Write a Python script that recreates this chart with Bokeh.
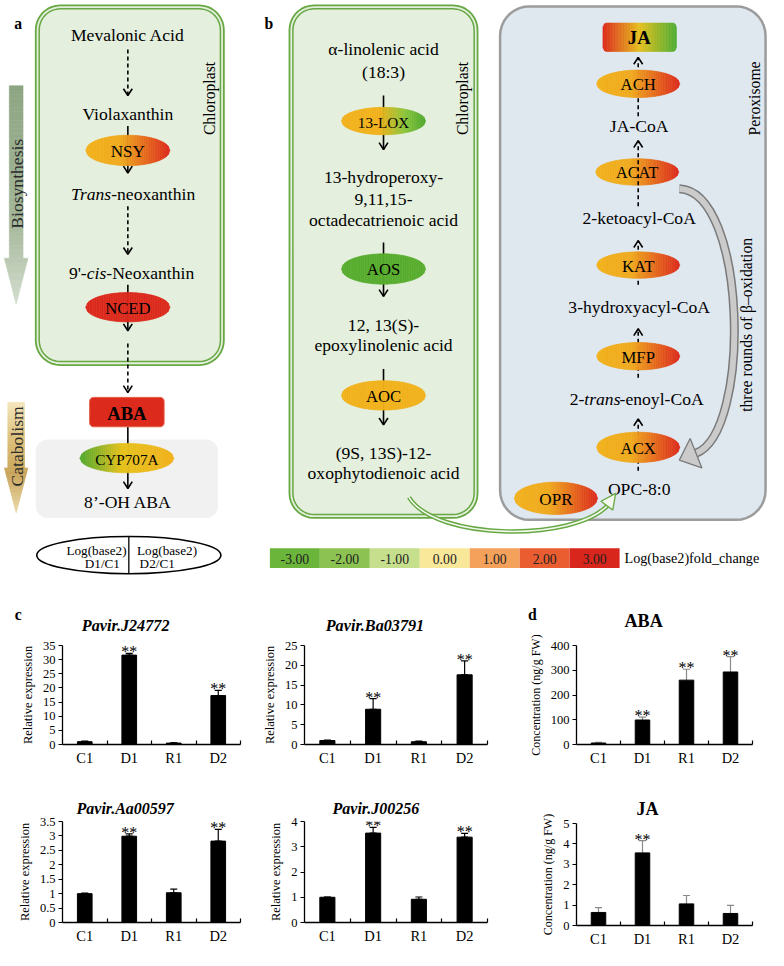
import numpy as np
from bokeh.plotting import figure
from bokeh.models import Range1d, LabelSet, Whisker, TeeHead, ColumnDataSource, FixedTicker
from bokeh.layouts import column, row
from bokeh.embed import file_html
from bokeh.resources import INLINE
from bokeh.core.properties import value

S = 0.98
SERIF = "Liberation Serif"

# ---------------- data ----------------
categories = ["C1", "D1", "R1", "D2"]

j24772_mean = [1.0, 31.6, 0.5, 17.3]
j24772_err = [0.2, 0.6, 0.1, 1.8]
j24772_sig = ["", "**", "", "**"]
j24772_ticks = [0, 5, 10, 15, 20, 25, 30, 35]

ba03791_mean = [1.0, 8.9, 0.7, 17.6]
ba03791_err = [0.1, 2.7, 0.15, 3.5]
ba03791_sig = ["", "**", "", "**"]
ba03791_ticks = [0, 5, 10, 15, 20, 25]

aa00597_mean = [1.0, 2.99, 1.03, 2.82]
aa00597_err = [0.02, 0.08, 0.13, 0.41]
aa00597_sig = ["", "**", "", "**"]
aa00597_ticks = [0, 0.5, 1, 1.5, 2, 2.5, 3, 3.5]

j00256_mean = [1.0, 3.54, 0.92, 3.38]
j00256_err = [0.01, 0.23, 0.09, 0.15]
j00256_sig = ["", "**", "", "**"]
j00256_ticks = [0, 1, 2, 3, 4]

aba_mean = [6, 99, 260, 293]
aba_err = [3, 12, 44, 62]
aba_sig = ["", "**", "**", "**"]
aba_ticks = [0, 100, 200, 300, 400]

ja_mean = [0.64, 3.56, 1.06, 0.59]
ja_err = [0.24, 0.6, 0.41, 0.4]
ja_sig = ["", "**", "", ""]
ja_ticks = [0, 1, 2, 3, 4, 5]

fold_labels = ["-3.00", "-2.00", "-1.00", "0.00", "1.00", "2.00", "3.00"]
fold_colors = ["#6ab53a", "#8cc251", "#c5df8d", "#f9e79a", "#f4a15c", "#ea5d31", "#d9261c"]

# ---------------- colours ----------------
ORANGE = "#f2b21c"
RED = "#dc2a1c"
GREEN = "#58ad2e"
BOX_GREEN = "#67a843"
BOX_FILL = "#e4efdd"
PER_FILL = "#dfe7ef"
OR_RED = [(0, ORANGE), (0.42, "#f0aa1e"), (1, RED)]


def fs(n):
    return f"{n * S:.1f}px"


# ---------------- diagram figure (also holds panel letters c/d and first-row titles) ----------------
TOP_H = 648
p = figure(width=768, height=round(TOP_H * S), x_range=Range1d(0, 784), y_range=Range1d(TOP_H, 0),
           x_axis_type=None, y_axis_type=None, toolbar_location=None,
           output_backend="svg", min_border=0, outline_line_color=None)
p.grid.visible = False


def txt(x, y, s, size=18, style="normal", align="center", angle=0.0, color="black", baseline="middle"):
    p.text(x=[x], y=[y], text=[s], text_font=value(SERIF), text_font_size=fs(size),
           text_font_style=style, text_align=align, text_baseline=baseline, angle=angle,
           text_color=color)


def hex2rgb(h):
    return tuple(int(h[i:i + 2], 16) for i in (1, 3, 5))


def lerp(stops, t):
    t = min(max(t, 0), 1)
    for (t0, c0), (t1, c1) in zip(stops[:-1], stops[1:]):
        if t <= t1:
            f = 0 if t1 == t0 else (t - t0) / (t1 - t0)
            a, b = hex2rgb(c0), hex2rgb(c1)
            return "#%02x%02x%02x" % tuple(round(a[k] + (b[k] - a[k]) * f) for k in range(3))
    return stops[-1][1]


def rrect(x0, y0, x1, y1, r, n=10):
    xs, ys = [], []
    for cx, cy, a0, a1 in [(x1 - r, y0 + r, -90, 0), (x1 - r, y1 - r, 0, 90),
                           (x0 + r, y1 - r, 90, 180), (x0 + r, y0 + r, 180, 270)]:
        for a in np.linspace(a0, a1, n):
            t = np.radians(a)
            xs.append(cx + r * np.cos(t))
            ys.append(cy + r * np.sin(t))
    return xs, ys


def grad_h(x0, x1, ext, stops, n=48):
    xs, ys, cols = [], [], []
    for i in range(n):
        xa = x0 + (x1 - x0) * i / n
        xb = x0 + (x1 - x0) * (i + 1) / n
        ta, ba = ext(xa)
        tb, bb = ext(xb)
        xs.append([xa, xb, xb, xa])
        ys.append([ta, tb, bb, ba])
        cols.append(lerp(stops, (i + 0.5) / n))
    p.patches(xs, ys, fill_color=cols, line_color=cols, line_width=0.6)


def grad_v(y0, y1, ext, stops, t0=0.0, t1=1.0, n=40):
    xs, ys, cols = [], [], []
    for i in range(n):
        ya = y0 + (y1 - y0) * i / n
        yb = y0 + (y1 - y0) * (i + 1) / n
        la, ra = ext(ya)
        lb, rb = ext(yb)
        xs.append([la, ra, rb, lb])
        ys.append([ya, ya, yb, yb])
        cols.append(lerp(stops, t0 + (t1 - t0) * (i + 0.5) / n))
    p.patches(xs, ys, fill_color=cols, line_color=cols, line_width=0.6)


def ell_ext(cx, cy, w, h):
    a, b = w / 2, h / 2

    def f(x):
        d = b * np.sqrt(max(0.0, 1 - ((x - cx) / a) ** 2))
        return cy - d, cy + d
    return f


def rr_ext(x0, y0, x1, y1, r):
    def f(x):
        dx = 0
        if x < x0 + r:
            dx = x0 + r - x
        elif x > x1 - r:
            dx = x - (x1 - r)
        dy = r - np.sqrt(max(0.0, r * r - dx * dx))
        return y0 + dy, y1 - dy
    return f


def enzyme(cx, cy, w, h, stops, label, size=17):
    grad_h(cx - w / 2, cx + w / 2, ell_ext(cx, cy, w, h), stops)
    txt(cx, cy + 1, label, size)


def big_arrow(cx, y_top, y_head, y_tip, shw, hhw, stops):
    frac = (y_head - y_top) / (y_tip - y_top)
    grad_v(y_top, y_head, lambda y: (cx - shw, cx + shw), stops, 0, frac, n=40)
    grad_v(y_head, y_tip, lambda y: (cx - hhw * (y_tip - y) / (y_tip - y_head),
                                     cx + hhw * (y_tip - y) / (y_tip - y_head)), stops, frac, 1, n=25)


def dbl_box(x0, y0, x1, y1, r):
    xs, ys = rrect(x0, y0, x1, y1, r)
    p.patch(xs, ys, fill_color=BOX_FILL, line_color=BOX_GREEN, line_width=1.8)
    xs, ys = rrect(x0 + 3.5, y0 + 3.5, x1 - 3.5, y1 - 3.5, r - 3.5)
    p.patch(xs, ys, fill_color=None, line_color=BOX_GREEN, line_width=1.5)


# left big arrows
big_arrow(16, 87, 263, 310, 7, 12, [(0, "#8ea583"), (0.6, "#a3b698"), (1, "#d3dccd")])
big_arrow(16, 410, 477, 523, 8.5, 12, [(0, "#f4e6bc"), (0.35, "#dcbf78"), (0.65, "#c9a55a"), (1, "#ead9a8")])
txt(17, 187, "Biosynthesis", 18, angle=np.pi / 2, color="#2a2a2a")
txt(17, 455, "Catabolism", 18, angle=np.pi / 2, color="#2a2a2a")

# compartments
dbl_box(36, 5, 228, 372, 25)
dbl_box(295, 5, 487, 528, 25)
xs, ys = rrect(510, 6, 781, 530, 30)
p.patch(xs, ys, fill_color=PER_FILL, line_color="#9c9c9c", line_width=2.5)
xs, ys = rrect(36, 448, 222, 528, 12)
p.patch(xs, ys, fill_color="#f1f1f1", line_color=None)

txt(18, 23, "a", 16, "bold")
txt(274, 23, "b", 16, "bold")
txt(213, 100, "Chloroplast", 16, angle=np.pi / 2)
txt(472, 100, "Chloroplast", 16, angle=np.pi / 2)
txt(770, 100, "Peroxisome", 16, angle=np.pi / 2)
txt(762, 331, "three rounds of \u03b2\u2013oxidation", 16, angle=np.pi / 2)

# panel a texts
txt(130, 35, "Mevalonic Acid")
txt(130, 116, "Violaxanthin")
txt(113, 197, "Trans", style="italic", align="right")
txt(113, 197, "-neoxanthin", align="left")
txt(88, 278, "9'-", align="right")
txt(88, 278, "cis", style="italic", align="left")
txt(108, 278, "-Neoxanthin", align="left")
txt(130, 512, "8\u2019-OH ABA")

# panel b texts
txt(391, 50, "\u03b1-linolenic acid")
txt(391, 73, "(18:3)")
txt(391, 180, "13-hydroperoxy-")
txt(391, 203, "9,11,15-")
txt(391, 224, "octadecatrienoic acid")
txt(391, 331, "12, 13(S)-")
txt(391, 352, "epoxylinolenic acid")
txt(391, 462, "(9S, 13S)-12-")
txt(391, 482, "oxophytodienoic acid")

# peroxisome texts
txt(652, 128, "JA-CoA")
txt(652, 222, "2-ketoacyl-CoA")
txt(652, 313, "3-hydroxyacyl-CoA")
txt(596, 407, "2-", align="right")
txt(596, 407, "trans", style="italic", align="left")
txt(632, 407, "-enoyl-CoA", align="left")
txt(652, 498, "OPC-8:0")

# shafts
solid = [(130, 128, 130, 176), (130, 290, 130, 337), (130, 435, 130, 498),
         (391, 97, 391, 152), (391, 247, 391, 302), (391, 376, 391, 433)]
dashed = [(130, 50, 130, 97), (130, 210, 130, 259), (130, 350, 130, 400),
          (651, 480, 651, 427), (651, 385, 651, 335), (651, 290, 651, 245), (651, 118, 651, 58)]
p.segment(x0=[s[0] for s in solid], y0=[s[1] for s in solid], x1=[s[2] for s in solid],
          y1=[s[3] for s in solid], line_color="black", line_width=1.6)
p.segment(x0=[s[0] for s in dashed], y0=[s[1] for s in dashed], x1=[s[2] for s in dashed],
          y1=[s[3] for s in dashed], line_color="black", line_width=1.6, line_dash="4 3")

# ABA box
xs, ys = rrect(91, 405, 167, 435, 4)
p.patch(xs, ys, fill_color=RED, line_color="#e45a40", line_width=1)
txt(129, 421, "ABA", 19, "bold")

# JA box
grad_h(615, 690, rr_ext(615, 23, 690, 52, 4), [(0, RED), (0.5, "#e6c01e"), (1, "#4fae32")])
txt(652, 38, "JA", 19, "bold")

# enzymes
enzyme(130, 153, 86, 31, OR_RED, "NSY", 17.5)
enzyme(130, 313, 86, 30, [(0, RED), (1, RED)], "NCED", 17)
enzyme(129, 467, 96, 30, [(0, "#4ea82e"), (0.45, "#e6c21c"), (1, ORANGE)], "CYP707A", 15.5)
enzyme(391, 123, 86, 28, [(0, ORANGE), (0.45, ORANGE), (0.75, "#8cc63c"), (1, "#4ea82e")], "13-LOX", 15.5)
enzyme(391, 274, 86, 31, [(0, GREEN), (1, GREEN)], "AOS", 17)
enzyme(391, 403, 86, 30, [(0, ORANGE), (1, ORANGE)], "AOC", 17)
enzyme(651, 85, 85, 28, OR_RED, "ACH", 17)
enzyme(650, 175, 85, 27, OR_RED, "ACAT", 16.5)
enzyme(651, 270, 85, 27, OR_RED, "KAT", 17)
enzyme(651, 363, 85, 28, OR_RED, "MFP", 17)
enzyme(651, 456, 85, 31, OR_RED, "ACX", 17)
enzyme(567, 508, 85, 33, OR_RED, "OPR", 17.5)

p.segment(x0=[651], y0=[210], x1=[651], y1=[143], line_color="black", line_width=1.6, line_dash="4 3")

# arrow heads
hx, hy = [], []
for x, y, d in [(130, 97, 1), (130, 176, 1), (130, 259, 1), (130, 337, 1), (130, 400, 1), (130, 498, 1),
                (391, 152, 1), (391, 302, 1), (391, 433, 1),
                (651, 427, -1), (651, 335, -1), (651, 245, -1), (651, 143, -1), (651, 58, -1)]:
    hx.append([x - 4.5, x, x + 4.5])
    hy.append([y - 7 * d, y, y - 7 * d])
p.multi_line(hx, hy, line_color="black", line_width=1.6)

# grey curved arrow (beta oxidation)
p.bezier(x0=[693], y0=[192], x1=[710], y1=[462], cx0=[762], cy0=[195], cx1=[767], cy1=[440],
         line_color="#7a7a7a", line_width=9)
p.bezier(x0=[693], y0=[192], x1=[710], y1=[462], cx0=[762], cy0=[195], cx1=[767], cy1=[440],
         line_color="#cbcbcb", line_width=6)
p.patch([693, 716, 704], [469, 477, 447], fill_color="#cbcbcb", line_color="#7a7a7a", line_width=1.3)

# green double curved arrow
p.bezier(x0=[417], y0=[507], x1=[620], y1=[515], cx0=[445], cy0=[552], cx1=[586], cy1=[552],
         line_color=BOX_GREEN, line_width=4.5)
p.bezier(x0=[417], y0=[507], x1=[620], y1=[515], cx0=[445], cy0=[552], cx1=[586], cy1=[552],
         line_color="#f3f8ef", line_width=1.6)
p.patch([628, 625, 613], [503, 520, 511], fill_color="#f3f8ef", line_color=BOX_GREEN, line_width=1.3)

# legend oval
p.ellipse(x=[131], y=[566], width=188, height=38, fill_color=None, line_color="black", line_width=1.6)
p.segment(x0=[131], y0=[547], x1=[131], y1=[585], line_color="black", line_width=1.3)
txt(98, 561, "Log(base2)", 13.5)
txt(104, 575, "D1/C1", 13.5)
txt(170, 561, "Log(base2)", 13.5)
txt(142, 575, "D2/C1", 13.5, align="left")

# fold-change colour scale
sx = [275 + 51 * (i + 0.5) for i in range(len(fold_labels))]
p.rect(x=sx, y=[569] * len(sx), width=51, height=20, fill_color=fold_colors, line_color=None)
p.text(x=sx, y=[570] * len(sx), text=fold_labels, text_font=value(SERIF), text_font_size=fs(14),
       text_align="center", text_baseline="middle", text_color="#222222")
txt(637, 569, "Log(base2)fold_change", 14.5, align="left")

# panel letters and first-row chart titles
txt(18, 627, "c", 16, "bold")
txt(543, 627, "d", 16, "bold")
txt(83, 638, "Pavir.J24772", 16.5, "bold italic", align="left")
txt(332, 638, "Pavir.Ba03791", 16.5, "bold italic", align="left")
txt(637, 633, "ABA", 18.5, "bold", align="left")


# ---------------- bar charts ----------------
def bar_chart(means, errs, sig, ticks, title, tsize, tstyle, toff, ylabel, ylsize,
              width, height, left, right, top, bottom, ecol, two_sided, overrides=False):
    f = figure(width=width, height=height, x_range=Range1d(0, 4), y_range=Range1d(0, ticks[-1]),
               toolbar_location=None, output_backend="svg",
               min_border_left=left, min_border_right=right, min_border_top=top, min_border_bottom=bottom)
    f.outline_line_color = None
    f.grid.visible = False
    xpos = [i + 0.5 for i in range(len(categories))]
    upper = [m + e for m, e in zip(means, errs)]
    lower = [(m - e) if two_sided else m for m, e in zip(means, errs)]
    src = ColumnDataSource(dict(x=xpos, top=means, upper=upper, lower=lower, sig=sig))
    f.vbar(x="x", top="top", width=0.33, source=src, fill_color="black", line_color="black")
    f.add_layout(Whisker(source=src, base="x", upper="upper", lower="lower", line_color=ecol, line_width=1.2,
                         upper_head=TeeHead(size=7, line_color=ecol, line_width=1.2),
                         lower_head=TeeHead(size=7, line_color=ecol, line_width=1.2)))
    f.add_layout(LabelSet(x="x", y="upper", text="sig", source=src, text_font=value(SERIF),
                          text_font_size="16px", text_align="center", text_baseline="alphabetic",
                          y_offset=-4, text_color="#000000"))
    f.xaxis.ticker = FixedTicker(ticks=xpos, minor_ticks=[i + 1 for i in range(len(categories))])
    f.xaxis.major_label_overrides = {x: c for x, c in zip(xpos, categories)}
    f.xaxis.major_tick_in = 0
    f.xaxis.major_tick_out = 0
    f.xaxis.minor_tick_in = 4
    f.xaxis.minor_tick_out = 0
    f.xaxis.minor_tick_line_color = "black"
    f.xaxis.minor_tick_line_width = 1.2
    f.xaxis.major_label_standoff = 5
    f.xaxis.major_label_text_font = SERIF
    f.xaxis.major_label_text_font_size = "14.5px"
    f.yaxis.ticker = FixedTicker(ticks=ticks, minor_ticks=[])
    if overrides:
        f.yaxis.major_label_overrides = {t: f"{t:g}" for t in ticks}
    f.yaxis.major_tick_in = 0
    f.yaxis.major_tick_out = 4
    f.yaxis.major_label_standoff = 3
    f.yaxis.major_label_text_font = SERIF
    f.yaxis.major_label_text_font_size = "12.5px"
    f.yaxis.axis_label = ylabel
    f.yaxis.axis_label_text_font = SERIF
    f.yaxis.axis_label_text_font_style = "normal"
    f.yaxis.axis_label_text_font_size = ylsize
    f.yaxis.axis_label_text_color = "black"
    f.yaxis.axis_label_standoff = 5
    for ax in (f.xaxis, f.yaxis):
        ax.axis_line_width = 1.3
        ax.axis_line_color = "black"
        ax.major_label_text_color = "black"
    f.xaxis.major_tick_line_color = None
    f.yaxis.major_tick_line_color = "black"
    if title:
        f.title.text = title
        f.title.text_font = SERIF
        f.title.text_font_style = tstyle
        f.title.text_font_size = tsize
        f.title.text_color = "black"
        f.title.align = "left"
        f.title.offset = toff
    return f


ROW1_H = round((790 - TOP_H) * S)
c1 = bar_chart(j24772_mean, j24772_err, j24772_sig, j24772_ticks, None, None, None, 0,
               "Relative expression", "12.5px", 253, ROW1_H, 57, 13, 10, 30, "black", False)
c3 = bar_chart(aa00597_mean, aa00597_err, aa00597_sig, aa00597_ticks, "Pavir.Aa00597", "16px", "bold italic", 14,
               "Relative expression", "12.5px", 253, 176, 62, 13, 47, 28, "black", False, overrides=True)
c2 = bar_chart(ba03791_mean, ba03791_err, ba03791_sig, ba03791_ticks, None, None, None, 0,
               "Relative expression", "12.5px", 247, ROW1_H, 51, 13, 10, 30, "black", False)
c4 = bar_chart(j00256_mean, j00256_err, j00256_sig, j00256_ticks, "Pavir.J00256", "16px", "bold italic", 28,
               "Relative expression", "12.5px", 247, 176, 48, 13, 47, 28, "black", False)
d1 = bar_chart(aba_mean, aba_err, aba_sig, aba_ticks, None, None, None, 0,
               "Concentration (ng/g FW)", "12px", 268, ROW1_H, 76, 16, 10, 30, "#8a8a8a", True)
d2 = bar_chart(ja_mean, ja_err, ja_sig, ja_ticks, "JA", "18px", "bold", 60,
               "Concentration (ng/g FW)", "12px", 268, 176, 71, 15, 49, 25, "#8a8a8a", True)

layout = column(p, row(column(c1, c3), column(c2, c4), column(d1, d2)))
open("out.html", "w").write(file_html(layout, INLINE))
